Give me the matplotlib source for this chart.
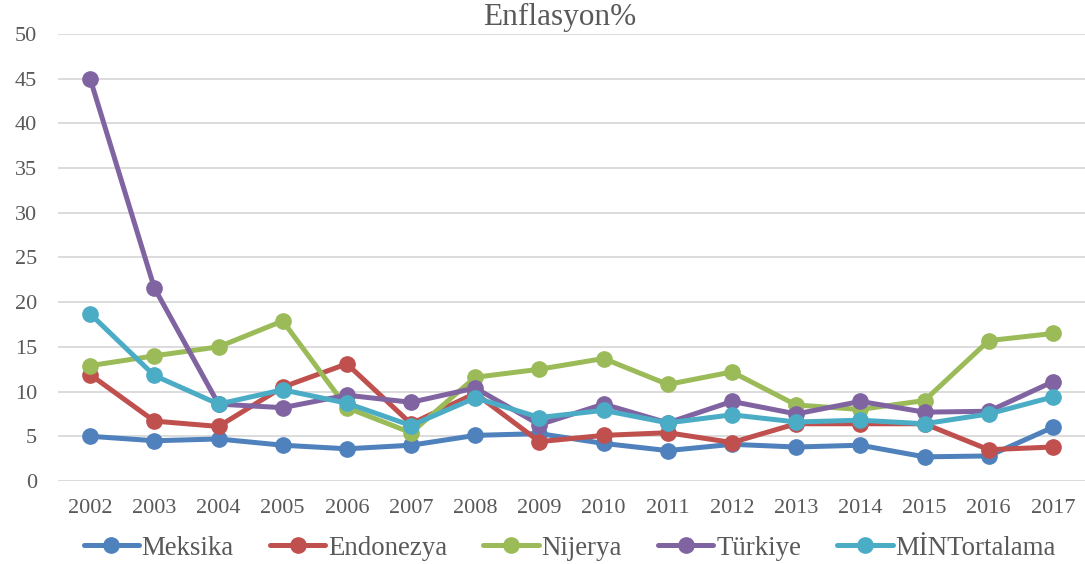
import matplotlib
matplotlib.use("Agg")
import matplotlib.pyplot as plt

years = [str(y) for y in range(2002, 2018)]
meksika = [5.0, 4.5, 4.7, 4.0, 3.6, 4.0, 5.1, 5.3, 4.2, 3.4, 4.1, 3.8, 4.0, 2.7, 2.8, 6.0]
endonezya = [11.9, 6.7, 6.1, 10.5, 13.1, 6.4, 9.8, 4.4, 5.1, 5.4, 4.3, 6.4, 6.4, 6.4, 3.5, 3.8]
nijerya = [12.9, 14.0, 15.0, 17.9, 8.2, 5.4, 11.6, 12.5, 13.7, 10.8, 12.2, 8.5, 8.0, 9.0, 15.7, 16.5]
turkiye = [45.0, 21.6, 8.6, 8.2, 9.6, 8.8, 10.4, 6.3, 8.6, 6.5, 8.9, 7.5, 8.9, 7.7, 7.8, 11.1]
mint = [18.7, 11.8, 8.6, 10.2, 8.7, 6.2, 9.3, 7.1, 7.9, 6.5, 7.4, 6.6, 6.8, 6.4, 7.5, 9.4]

series = [
    ("Meksika", meksika, "#4F81BD"),
    ("Endonezya", endonezya, "#C0504D"),
    ("Nijerya", nijerya, "#9BBB59"),
    ("Türkiye", turkiye, "#8064A2"),
    ("MİNTortalama", mint, "#4BACC6"),
]

plt.rcParams['font.family'] = ['Liberation Serif', 'DejaVu Serif']
txt = "#595959"

fig = plt.figure(figsize=(10.85, 5.64), dpi=100)
ax = fig.add_axes([0.0535, 0.1472, 0.9465, 0.7925])

x = list(range(len(years)))
for name, vals, col in series:
    ax.plot(x, vals, color=col, lw=3.6, marker="o", markersize=11, label=name,
            solid_capstyle="round")

ax.set_xlim(-0.5, len(years) - 0.5)
ax.set_ylim(0, 50)
ax.set_yticks(range(0, 51, 5))
ax.set_xticks(x)
ax.set_xticklabels(years)
ax.grid(axis="y", color="#D9D9D9", lw=1.3)
ax.set_axisbelow(True)
for s in ax.spines.values():
    s.set_visible(False)
ax.tick_params(axis="both", length=0, labelsize=16, colors=txt)
ax.tick_params(axis="x", pad=13)
ax.tick_params(axis="y", pad=15)

fig.text(0.516, 0.969, "Enflasyon%", ha="center", va="center", fontsize=22.5, color=txt)

leg = fig.legend(loc="center", bbox_to_anchor=(0.525, 0.028), ncol=5, frameon=False,
                 fontsize=19.4, handlelength=2.05, columnspacing=1.35, handletextpad=0.1,
                 labelcolor=txt)

fig.savefig("out.png", dpi=100)
